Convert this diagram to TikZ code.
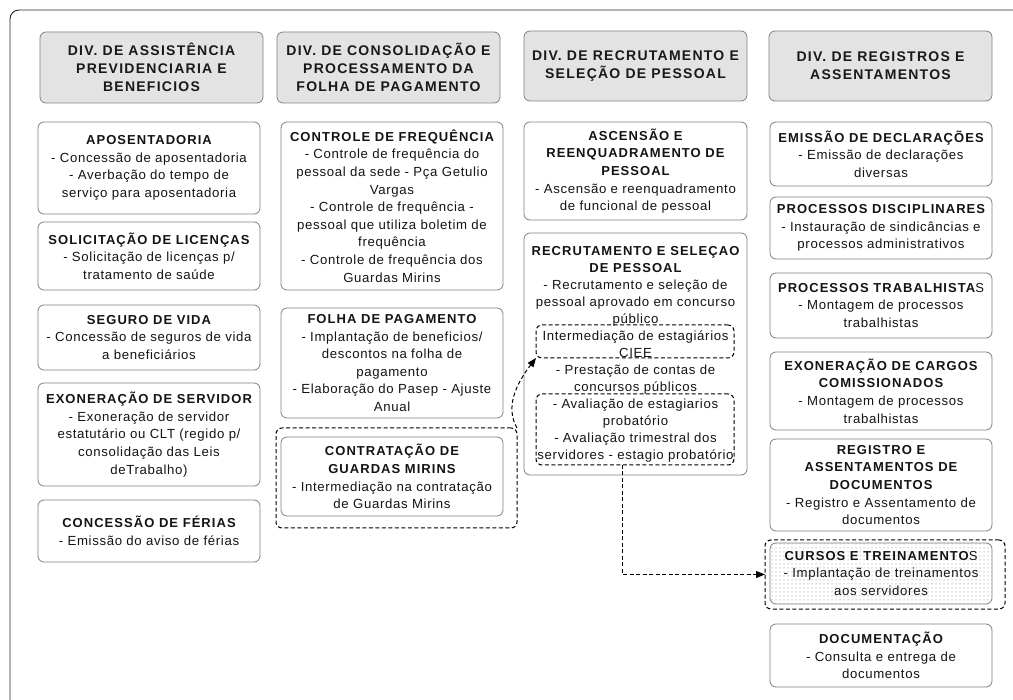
\documentclass[tikz,border=0pt]{standalone}
\usepackage{fontspec}
\setmainfont{Liberation Sans}[LetterSpace=5]
\newfontfamily\headfont{Liberation Sans}[LetterSpace=8]
\newfontfamily\divfont{Liberation Sans}[LetterSpace=9]
\usetikzlibrary{patterns.meta,arrows.meta,calc}

% fine grey dot fill
\tikzdeclarepattern{
  name=finedots,
  type=uncolored,
  bottom left={(-0.5pt,-0.5pt)},
  top right={(3.5pt,3.5pt)},
  tile size={(4pt,4pt)},
  code={\fill (0pt,0pt) circle (0.5pt);}
}

\newcommand\hd[1]{{\headfont\bfseries\fontsize{13}{17.5}\selectfont #1}}
\newcommand\dv[1]{{\divfont\bfseries #1}}

\begin{document}
\begin{tikzpicture}[x=1pt,y=-1pt,
  every node/.style={inner sep=0pt, outer sep=0pt},
  item/.style={draw=black!50, line width=0.8pt, rounded corners=6pt, fill=white,
    align=center, font=\fontsize{13.2}{17.6}\selectfont, text=black!92},
  head/.style={item, fill=black!11, text=black!90, font=\fontsize{14}{18}\selectfont},
  group/.style={draw=black, dash pattern=on 4pt off 2.5pt, line width=1pt, rounded corners=6pt},
  link/.style={draw=black, dash pattern=on 4pt off 2.5pt, line width=1pt,
    -{Triangle[length=9pt,width=7pt]}}
]
\useasboundingbox (0,0) rectangle (1013,700);

% outer frame
\draw[black!85, line width=0.9pt, rounded corners=9pt] (1013,10) -- (10,10) -- (10,700);

% ---------------- headers ----------------
\node[head, minimum width=223pt, minimum height=71pt] (h1) at (151.5,67.5)
  {\dv{DIV. DE ASSISTÊNCIA}\\\dv{PREVIDENCIARIA E}\\\dv{BENEFICIOS}};
\node[head, minimum width=223pt, minimum height=71pt] (h2) at (388.5,67.5)
  {\dv{DIV. DE CONSOLIDAÇÃO E}\\\dv{PROCESSAMENTO DA}\\\dv{FOLHA DE PAGAMENTO}};
\node[head, minimum width=223pt, minimum height=70pt] (h3) at (635.5,66)
  {\dv{DIV. DE RECRUTAMENTO E}\\\dv{SELEÇÃO DE PESSOAL}};
\node[head, minimum width=223pt, minimum height=70pt] (h4) at (880.5,66)
  {\dv{DIV. DE REGISTROS E}\\\dv{ASSENTAMENTOS}};

% ---------------- column 1 ----------------
\node[item, minimum width=222pt, minimum height=92pt] (apos) at (149,168)
  {\hd{APOSENTADORIA}\\- Concessão de aposentadoria\\- Averbação do tempo de\\serviço para aposentadoria};
\node[item, minimum width=222pt, minimum height=68pt] (lic) at (149,256)
  {\hd{SOLICITAÇÃO DE LICENÇAS}\\- Solicitação de licenças p/\\tratamento de saúde};
\node[item, minimum width=222pt, minimum height=65pt] (seg) at (149,337.5)
  {\hd{SEGURO DE VIDA}\\- Concessão de seguros de vida\\a beneficiários};
\node[item, minimum width=222pt, minimum height=103pt] (exs) at (149,434.5)
  {\hd{EXONERAÇÃO DE SERVIDOR}\\- Exoneração de servidor\\estatutário ou CLT (regido p/\\consolidação das Leis\\deTrabalho)};
\node[item, minimum width=222pt, minimum height=62pt] (fer) at (149,531)
  {\hd{CONCESSÃO DE FÉRIAS}\\- Emissão do aviso de férias};

% ---------------- column 2 ----------------
\node[item, minimum width=222pt, minimum height=168pt] (freq) at (392,206)
  {\hd{CONTROLE DE FREQUÊNCIA}\\- Controle de frequência do\\pessoal da sede - Pça Getulio\\Vargas\\- Controle de frequência -\\pessoal que utiliza boletim de\\frequência\\- Controle de frequência dos\\Guardas Mirins};
\node[item, minimum width=222pt, minimum height=110pt] (folha) at (392,363)
  {\hd{FOLHA DE PAGAMENTO}\\- Implantação de beneficios/\\descontos na folha de\\pagamento\\- Elaboração do Pasep - Ajuste\\Anual};
\node[group, minimum width=241pt, minimum height=100pt] (grpA) at (396.5,478) {};
\node[item, minimum width=222pt, minimum height=79pt] (guard) at (392,476.5)
  {\hd{CONTRATAÇÃO DE}\\\hd{GUARDAS MIRINS}\\- Intermediação na contratação\\de Guardas Mirins};

% ---------------- column 3 ----------------
\node[item, minimum width=223pt, minimum height=98pt] (asc) at (635.5,171)
  {\hd{ASCENSÃO E}\\\hd{REENQUADRAMENTO DE}\\\hd{PESSOAL}\\- Ascensão e reenquadramento\\de funcional de pessoal};
\node[item, minimum width=223pt, minimum height=242pt, font=\fontsize{13.2}{17}\selectfont] (rec) at (635.5,354)
  {\hd{RECRUTAMENTO E SELEÇAO}\\\hd{DE PESSOAL}\\- Recrutamento e seleção de\\pessoal aprovado em concurso\\público\\Intermediação de estagiários\\CIEE\\- Prestação de contas de\\concursos públicos\\- Avaliação de estagiarios\\probatório\\- Avaliação trimestral dos\\servidores - estagio probatório};
\node[group, minimum width=198pt, minimum height=33pt] (ciee) at (635,341.5) {};
\node[group, minimum width=198pt, minimum height=71pt] (aval) at (635,429.5) {};

% ---------------- column 4 ----------------
\node[item, minimum width=222pt, minimum height=64pt] (decl) at (881,154)
  {\hd{EMISSÃO DE DECLARAÇÕES}\\- Emissão de declarações\\diversas};
\node[item, minimum width=222pt, minimum height=62pt] (disc) at (881,228)
  {\hd{PROCESSOS DISCIPLINARES}\\- Instauração de sindicâncias e\\processos administrativos};
\node[item, minimum width=222pt, minimum height=65pt] (trab) at (881,305.5)
  {\hd{PROCESSOS TRABALHISTA}{\headfont\fontsize{13}{17.5}\selectfont S}\\- Montagem de processos\\trabalhistas};
\node[item, minimum width=222pt, minimum height=78pt] (cargo) at (881,391)
  {\hd{EXONERAÇÃO DE CARGOS}\\\hd{COMISSIONADOS}\\- Montagem de processos\\trabalhistas};
\node[item, minimum width=222pt, minimum height=92pt] (regi) at (881,485)
  {\hd{REGISTRO E}\\\hd{ASSENTAMENTOS DE}\\\hd{DOCUMENTOS}\\- Registro e Assentamento de\\documentos};
\node[group, minimum width=240pt, minimum height=69pt] (grpB) at (885,574.5) {};
\node[item, minimum width=222pt, minimum height=61pt, pattern={finedots}, pattern color=black!55] (curs) at (881,573.5)
  {\hd{CURSOS E TREINAMENTO}{\headfont\fontsize{13}{17.5}\selectfont S}\\- Implantação de treinamentos\\aos servidores};
\node[item, minimum width=222pt, minimum height=63pt] (docu) at (881,655.5)
  {\hd{DOCUMENTAÇÃO}\\- Consulta e entrega de\\documentos};

% ---------------- links ----------------
\draw[link] (grpA.north east) .. controls (508,412) and (510,392) .. (ciee.south west);
\draw[link] ($(aval.south)+(-13,0)$) |- (grpB.west);

\end{tikzpicture}
\end{document}
